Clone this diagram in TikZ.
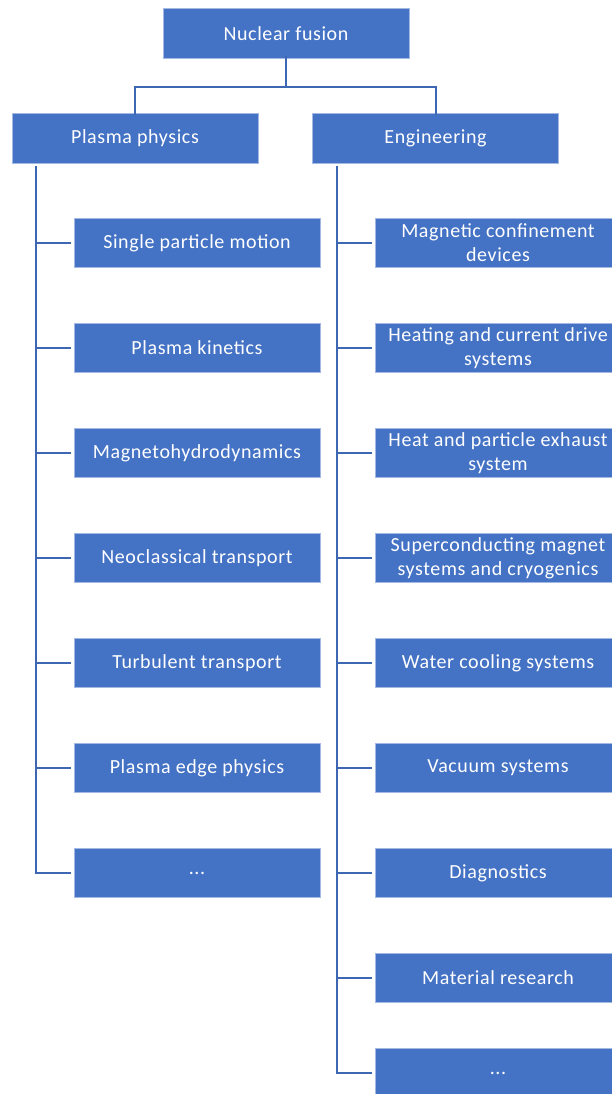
\documentclass[tikz,border=0pt]{standalone}
\usepackage{fontspec}
\setmainfont{Carlito}[LetterSpace=3]
\definecolor{boxfill}{HTML}{4472C4}
\definecolor{boxedge}{HTML}{A3B8E2}
\definecolor{linkblue}{HTML}{3D66B3}
\begin{document}
\begin{tikzpicture}[x=1pt,y=-1pt,
  box/.style={rectangle, fill=boxfill, draw=boxedge, line width=0.8pt,
    minimum width=246pt, minimum height=49.5pt, inner sep=2pt,
    text=white, align=center, font=\fontsize{20}{24}\selectfont},
  conn/.style={draw=linkblue, line width=2pt}]
\useasboundingbox (0,0) rectangle (612,1094);
\clip (0,0) rectangle (612,1094);

% top levels
\node[box] (root) at (286,33.5) {Nuclear fusion};
\node[box] (phys) at (135,138.5) {Plasma physics};
\node[box] (eng)  at (435.5,138.5) {Engineering};

\draw[conn] ([yshift=3pt]root.south) -- (286,87) -| ([yshift=-2pt]phys.north);
\draw[conn] (286,87) -| ([yshift=-2pt]eng.north);

% plasma physics branch
\node[box] (l1) at (197,243) {Single particle motion};
\node[box] (l2) at (197,348) {Plasma kinetics};
\node[box] (l3) at (197,453) {Magnetohydrodynamics};
\node[box] (l4) at (197,558) {Neoclassical transport};
\node[box] (l5) at (197,663) {Turbulent transport};
\node[box] (l6) at (197,768) {Plasma edge physics};
\node[box] (l7) at (197,873) {...};

\coordinate (tl) at (36,166);
\draw[conn] (tl) |- ([xshift=-2.5pt]l7.west);
\foreach \n in {l1,l2,l3,l4,l5,l6}
  \draw[conn] (tl |- \n.west) -- ([xshift=-2.5pt]\n.west);

% engineering branch
\node[box] (r1) at (498,243) {Magnetic confinement\\devices};
\node[box] (r2) at (498,348) {Heating and current drive\\systems};
\node[box] (r3) at (498,453) {Heat and particle exhaust\\system};
\node[box] (r4) at (498,558) {Superconducting magnet\\systems and cryogenics};
\node[box] (r5) at (498,663) {Water cooling systems};
\node[box] (r6) at (498,768) {Vacuum systems};
\node[box] (r7) at (498,873) {Diagnostics};
\node[box] (r8) at (498,978) {Material research};
\node[box] (r9) at (498,1073) {...};

\coordinate (tr) at (337,166);
\draw[conn] (tr) |- ([xshift=-2.5pt]r9.west);
\foreach \n in {r1,r2,r3,r4,r5,r6,r7,r8}
  \draw[conn] (tr |- \n.west) -- ([xshift=-2.5pt]\n.west);
\end{tikzpicture}
\end{document}
